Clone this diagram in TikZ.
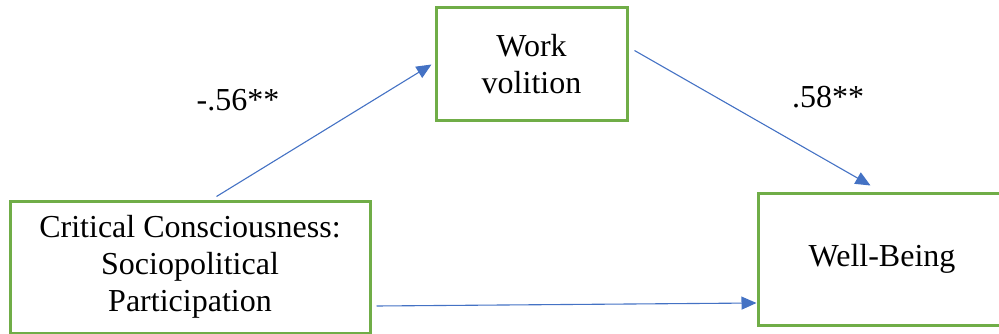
\documentclass[tikz,border=0pt]{standalone}
\usepackage{fontspec}
\setmainfont{Liberation Serif}
\usetikzlibrary{arrows.meta,calc}
\definecolor{boxgreen}{HTML}{70AD47}
\definecolor{arrowblue}{HTML}{4472C4}
\begin{document}
\begin{tikzpicture}[x=1pt,y=-1pt,
  varbox/.style={draw=boxgreen,line width=3pt,fill=white,align=center,inner sep=0pt,
    font=\fontsize{32}{37}\selectfont},
  path/.style={draw=arrowblue,line width=1.1pt,-{Triangle[length=15pt,width=13pt]}},
  coef/.style={font=\fontsize{32}{37}\selectfont,inner sep=0pt}]
\useasboundingbox (0,0) rectangle (999,334);
\node[varbox,minimum width=360pt,minimum height=132pt] (cc) at (190,267)
  {Critical Consciousness:\\Sociopolitical\\Participation};
\node[varbox,minimum width=191pt,minimum height=113pt] (wv) at (531.5,64.5)
  {Work\\volition};
\node[varbox,minimum width=248pt,minimum height=132pt] (wb) at (882,259)
  {Well-Being};
\coordinate (a1s) at ($(cc.north west)+(208,-3)$);
\coordinate (a1e) at ($(wv.west)+(-3,0)$);
\coordinate (a2s) at ($(wv.north east)+(6,44)$);
\coordinate (a2e) at ($(wb.north west)+(114,-6)$);
\coordinate (a3s) at ($(cc.east)+(5,39)$);
\coordinate (a3e) at ($(wb.west)+(0,44)$);
\draw[path] (a1s) -- (a1e);
\draw[path] (a2s) -- (a2e);
\draw[path] (a3s) -- (a3e);
\node[coef] (c1) at (238,100) {-.56**};
\node[coef] (c2) at (828,97) {.58**};
\end{tikzpicture}
\end{document}
